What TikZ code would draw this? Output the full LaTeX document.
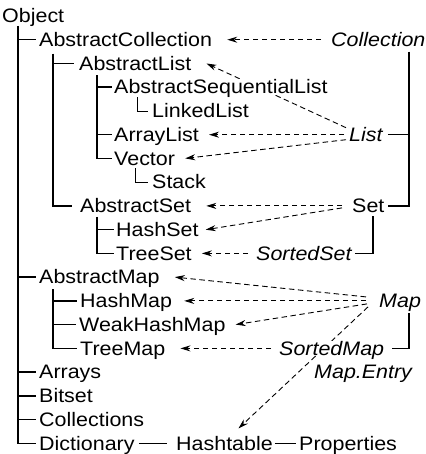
\documentclass[tikz,border=0pt]{standalone}
\usepackage{fontspec}
\setmainfont{Liberation Sans}[FakeStretch=1.1]
\usetikzlibrary{arrows.meta,calc}
\pgfdeclarelayer{bg}
\pgfsetlayers{bg,main}
\begin{document}
\begin{tikzpicture}[x=1pt,y=-1pt,
  lbl/.style={anchor=base west, inner sep=0pt, text height=14.4pt, text depth=1pt,
              fill=white, font=\fontsize{19.5}{19.5}\selectfont},
  ifc/.style={lbl, font=\fontsize{19.5}{19.5}\selectfont\itshape},
  tree/.style={line width=1.4pt, black},
  thintree/.style={line width=0.7pt, black},
  dep/.style={line width=0.9pt, dash pattern=on 5.5pt off 3.5pt,
              -{Stealth[length=10pt,width=6pt]}}]
\useasboundingbox (0,0) rectangle (425,454);

% classes
\node[lbl] (obj)   at (2,22.7)    {Object};
\node[lbl] (ac)    at (39,46.4)   {AbstractCollection};
\node[lbl] (al)    at (79,70.2)   {AbstractList};
\node[lbl] (asl)   at (114,93.9)  {AbstractSequentialList};
\node[lbl] (ll)    at (152,117.7) {LinkedList};
\node[lbl] (arl)   at (114,141.4) {ArrayList};
\node[lbl] (vec)   at (114,165.1) {Vector};
\node[lbl] (stk)   at (152,188.9) {Stack};
\node[lbl] (aset)  at (80,212.6)  {AbstractSet};
\node[lbl] (hset)  at (116,236.4) {HashSet};
\node[lbl] (tset)  at (116,260.1) {TreeSet};
\node[lbl] (amap)  at (39,283.8)  {AbstractMap};
\node[lbl] (hmap)  at (80,307.6)  {HashMap};
\node[lbl] (whmap) at (79,331.3)  {WeakHashMap};
\node[lbl] (tmap)  at (80,355.1)  {TreeMap};
\node[lbl] (arr)   at (39,378.8)  {Arrays};
\node[lbl] (bits)  at (39,402.5)  {Bitset};
\node[lbl] (colls) at (39,426.3)  {Collections};
\node[lbl] (dict)  at (39,450)    {Dictionary};
\node[lbl] (htab)  at (176,450)   {Hashtable};
\node[lbl] (props) at (299,450)   {Properties};

% interfaces
\node[ifc] (coll) at (331,46.4)  {Collection};
\node[ifc] (list) at (349,141.4) {List};
\node[lbl] (set)  at (352,212.6) {Set};
\node[ifc] (sset) at (256,260.1) {SortedSet};
\node[ifc] (map)  at (379,307.6) {Map};
\node[ifc] (smap) at (279,355.1) {SortedMap};
\node[ifc] (ment) at (314,378.8) {Map.Entry};

\begin{pgfonlayer}{bg}
% class tree
\coordinate (t1) at ([xshift=16pt,yshift=-2pt]obj.south west);
\draw[tree] (t1) |- ([xshift=-3pt]dict.west);
\foreach \n in {ac,amap,arr,bits,colls}
  \draw[tree] (t1 |- \n.west) -- ([xshift=-3pt]\n.west);

\coordinate (t2) at ([xshift=14pt,yshift=-6pt]ac.south west);
\draw[tree] (t2) |- ([xshift=-8pt]aset.west);
\draw[tree] (t2 |- al.west) -- ([xshift=-5pt]al.west);

\coordinate (t3) at ([xshift=18pt,yshift=-4pt]al.south west);
\draw[tree] (t3) |- ([xshift=-2pt]vec.west);
\draw[tree] (t3 |- asl.west) -- ([xshift=-2pt]asl.west);
\draw[tree] (t3 |- arl.west) -- ([xshift=-2pt]arl.west);
\draw[thintree] ([xshift=23pt,yshift=-2pt]asl.south west) |- ([xshift=-4pt]ll.west);
\draw[thintree] ([xshift=21pt,yshift=-2pt]vec.south west) |- ([xshift=-4pt]stk.west);

\coordinate (t4) at ([xshift=17pt,yshift=-3pt]aset.south west);
\draw[tree] (t4) |- ([xshift=-2pt]tset.west);
\draw[tree] (t4 |- hset.west) -- ([xshift=-2pt]hset.west);

\coordinate (t5) at ([xshift=14pt,yshift=-4pt]amap.south west);
\draw[tree] (t5) |- ([xshift=-3pt]tmap.west);
\draw[tree] (t5 |- hmap.west) -- ([xshift=-3pt]hmap.west);
\draw[tree] (t5 |- whmap.west) -- ([xshift=-3pt]whmap.west);

\draw[tree] ([xshift=4pt]dict.east) -- ([xshift=-9pt]htab.west);
\draw[tree] ([xshift=2pt]htab.east) -- ([xshift=-3pt]props.west);

% interface tree
\coordinate (rail) at ([xshift=78pt,yshift=-4pt]coll.south west);
\draw[tree] (rail) |- ([xshift=3pt]set.east);
\draw[tree] ([xshift=5pt]list.east) -- (list.east -| rail);
\draw[tree] ([xshift=3pt]sset.east) -| ([xshift=21pt,yshift=-2pt]set.south west);
\draw[tree] ([xshift=8pt]smap.east) -| ([xshift=30pt,yshift=-4pt]map.south west);

% implementations
\draw[dep] ([xshift=-10pt]coll.west) -- ([xshift=15pt]ac.east);
\draw[dep] ([xshift=-3pt,yshift=7pt]list.west) -- ([xshift=15pt]al.east);
\draw[dep] ([xshift=-5pt]list.west) -- ([xshift=10pt]arl.east);
\draw[dep] ([xshift=-3pt,yshift=-5pt]list.west) -- ([xshift=10pt]vec.east);
\draw[dep] ([xshift=-10pt]set.west) -- ([xshift=15pt]aset.east);
\draw[dep] ([xshift=-10pt,yshift=-2pt]set.west) -- ([xshift=7pt]hset.east);
\draw[dep] ([xshift=-8pt]sset.west) -- ([xshift=10pt]tset.east);
\draw[dep] ([xshift=-13pt,yshift=4pt]map.west) -- ([xshift=15pt]amap.east);
\draw[dep] ([xshift=-13pt]map.west) -- ([xshift=12pt]hmap.east);
\draw[dep] ([xshift=-12pt,yshift=-3pt]map.west) -- ([xshift=10pt]whmap.east);
\draw[dep] ([xshift=-11pt,yshift=-6pt]map.west) -- ([xshift=14pt,yshift=7pt]htab.north);
\draw[dep] ([xshift=-8pt]smap.west) -- ([xshift=15pt]tmap.east);
\end{pgfonlayer}
\end{tikzpicture}
\end{document}
